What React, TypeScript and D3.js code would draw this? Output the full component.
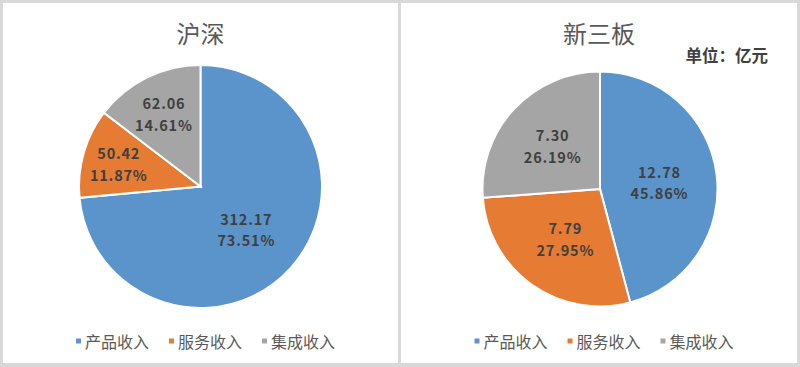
import * as d3 from "d3";
import React from "react";

const categories = ["产品收入", "服务收入", "集成收入"];
const colors = ["#5b93cb", "#e67b33", "#a5a5a5"];

const huShenValues = [312.17, 50.42, 62.06];
const xinSanBanValues = [12.78, 7.79, 7.3];

const panels = [
  { title: "沪深", values: huShenValues, x0: 3, x1: 398, cx: 200.5, cy: 186.5, r: 121.5, labelPos: [0.51, 0.7, 0.68], unit: "" },
  { title: "新三板", values: xinSanBanValues, x0: 401, x1: 797, cx: 600, cy: 189, r: 117.5, labelPos: [0.51, 0.51, 0.55], unit: "单位：亿元" },
];

const width = 800;
const height = 367;
const font = "'Microsoft YaHei', 'Noto Sans CJK SC', sans-serif";
const fmtVal = d3.format(".2f");
const fmtPct = d3.format(".2%");

function Panel({ p }) {
  const pie = d3.pie<number>().sort(null).startAngle(0).endAngle(2 * Math.PI);
  const arcs = pie(p.values);
  const arc = d3.arc<d3.PieArcDatum<number>>().innerRadius(0).outerRadius(p.r);
  const total = d3.sum(p.values);
  const mid = (p.x0 + p.x1) / 2;

  // legend layout
  const itemW = 93;
  const legendStart = mid + 5 - (itemW * categories.length - 20) / 2;

  return (
    <g>
      <rect x={p.x0} y={3} width={p.x1 - p.x0} height={360} fill="#fff" />
      <text x={mid} y={32} textAnchor="middle" dominantBaseline="central" fontSize={24} fill="#595959" fontFamily={font}>
        {p.title}
      </text>
      {p.unit && (
        <text x={768} y={55} textAnchor="end" dominantBaseline="central" fontSize={16.5} fontWeight="bold" fill="#404040" fontFamily={font}>
          {p.unit}
        </text>
      )}
      <g transform={`translate(${p.cx},${p.cy})`}>
        {arcs.map((a, i) => (
          <path key={i} d={arc(a) || ""} fill={colors[i]} stroke="#fff" strokeWidth={2} />
        ))}
        {arcs.map((a, i) => {
          const lr = p.r * p.labelPos[i];
          const [lx, ly] = d3.arc<d3.PieArcDatum<number>>().innerRadius(lr).outerRadius(lr).centroid(a);
          return (
            <text key={i} x={lx} y={ly} textAnchor="middle" fontSize={14.5} fontWeight="bold" fill="#404040" fontFamily={font} letterSpacing={0.8}>
              <tspan x={lx} dy="-0.25em">{fmtVal(a.data)}</tspan>
              <tspan x={lx} dy="1.5em">{fmtPct(a.data / total)}</tspan>
            </text>
          );
        })}
      </g>
      {categories.map((c, i) => {
        const x = legendStart + i * itemW;
        return (
          <g key={c}>
            <rect x={x} y={338.5} width={5} height={5} fill={colors[i]} />
            <text x={x + 9} y={341} dominantBaseline="central" fontSize={16} fill="#595959" fontFamily={font}>
              {c}
            </text>
          </g>
        );
      })}
    </g>
  );
}

export default function App() {
  return (
    <svg width={width} height={height} style={{ position: "absolute", left: 0, top: 0 }}>
      <rect width={width} height={height} fill="#d9d9d9" />
      {panels.map((p) => (
        <Panel key={p.title} p={p} />
      ))}
    </svg>
  );
}
